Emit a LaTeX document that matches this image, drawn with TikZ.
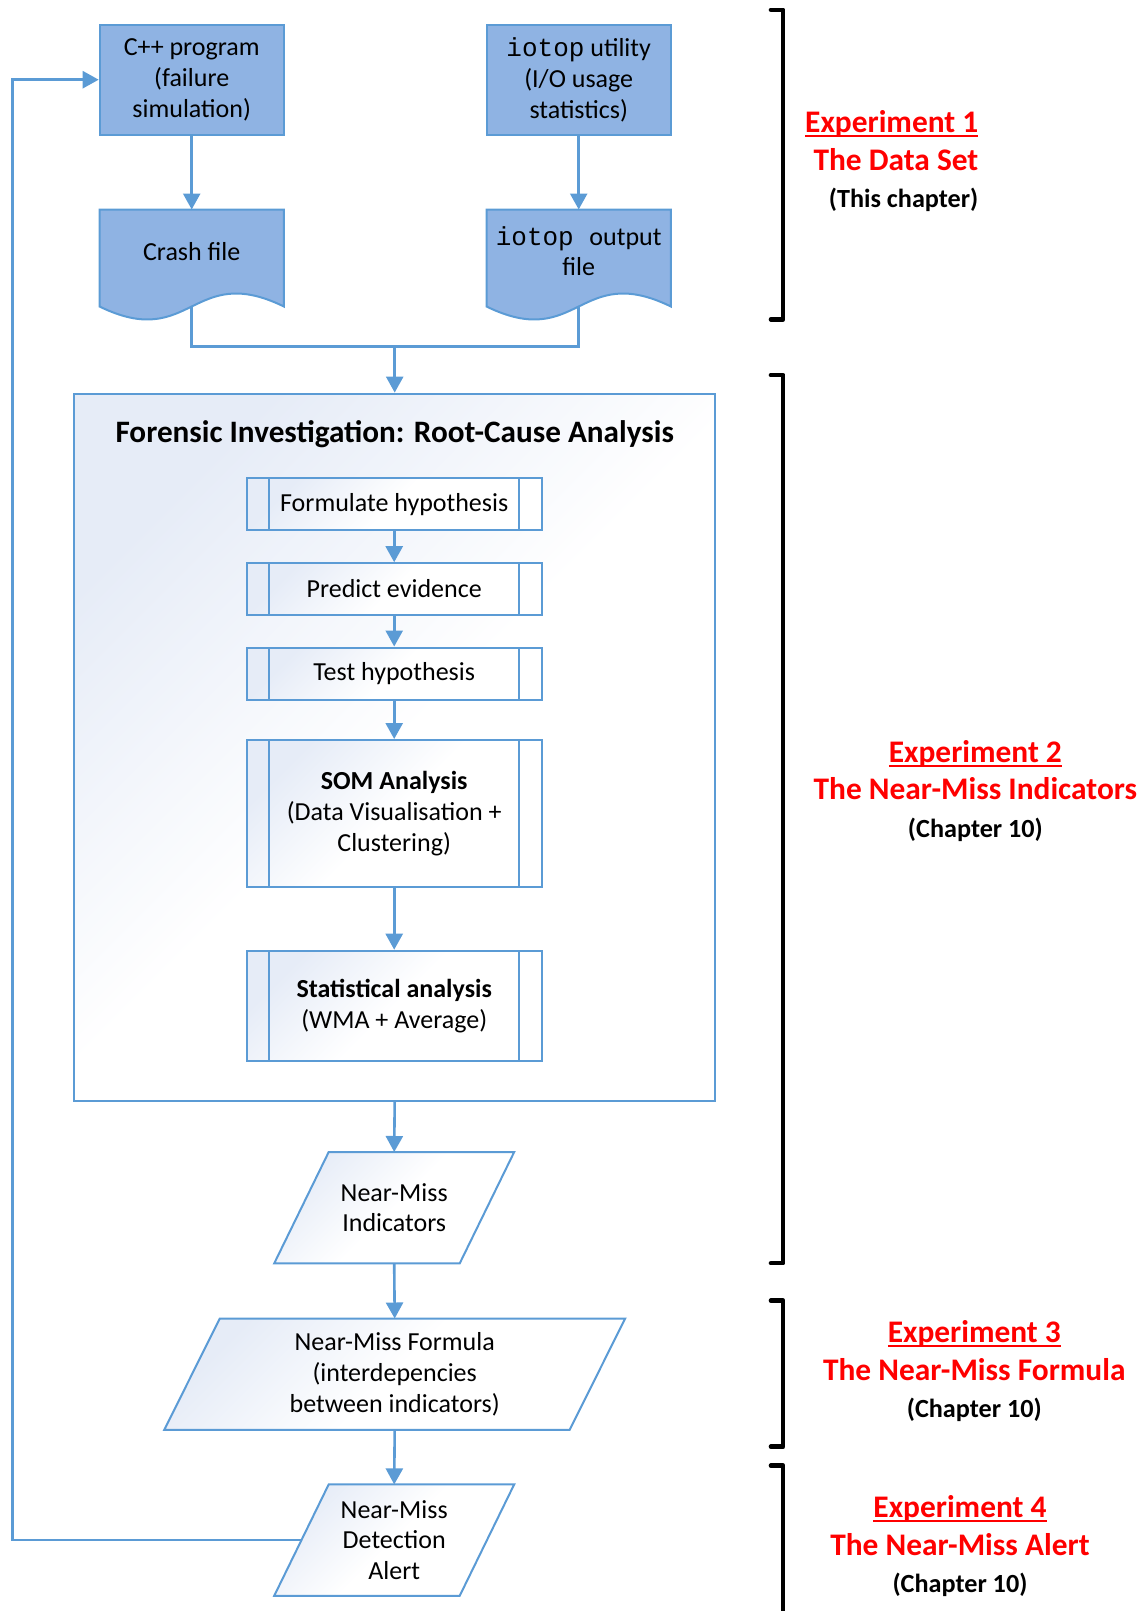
\documentclass[tikz,border=0pt]{standalone}
\usepackage{fontspec}
\setmainfont{Carlito}
\newfontfamily\codefont{Liberation Mono}
\usetikzlibrary{arrows.meta,calc,backgrounds}

\definecolor{boxfill}{HTML}{8FB3E3}
\definecolor{boxline}{HTML}{5B9BD5}
\definecolor{shadec}{HTML}{E6ECF7}
\definecolor{labred}{HTML}{FF0000}

\newcommand\bxfont{\fontsize{26}{30.8}\selectfont}
\newcommand\ttlfont{\fontsize{31.2}{36}\selectfont\bfseries}
\newcommand\expfont{\fontsize{31.4}{38}\selectfont\bfseries}
\newcommand\notefont{\fontsize{26.2}{30}\selectfont\bfseries}
% thick underline for the experiment headings
\newcommand\expul[1]{\setbox0\hbox{#1}\rlap{\rule[-4.6pt]{\wd0}{2.4pt}}\box0}

\tikzset{
  conn/.style={draw=boxline, line width=2.6pt},
  arrow/.style={conn, -{Triangle[width=17pt,length=16pt]}},
  softfill/.style={top color=shadec, bottom color=white, middle color=white, shading angle=45},
  solidbox/.style={rectangle, draw=boxline, fill=boxfill, line width=2pt,
    align=center, font=\bxfont, minimum width=184pt, minimum height=110pt},
  textonly/.style={rectangle, align=center, font=\bxfont, inner sep=0pt},
  docshape/.style={draw=boxline, fill=boxfill, line width=2pt},
  ioshape/.style={draw=boxline, line width=2pt, softfill},
  bigbox/.style={rectangle, draw=boxline, line width=2pt, softfill},
  process/.style={rectangle, draw=boxline, line width=2pt, softfill,
    minimum width=295pt, align=center, font=\bxfont,
    path picture={\draw[boxline, line width=2pt]
      ([xshift=22.6pt]path picture bounding box.north west) --
      ([xshift=22.6pt]path picture bounding box.south west)
      ([xshift=-22.6pt]path picture bounding box.north east) --
      ([xshift=-22.6pt]path picture bounding box.south east);}},
  bracket/.style={draw=black, line width=4.5pt, line cap=round, line join=round},
  exptitle/.style={font=\expfont, text=labred, inner sep=0pt},
  expnote/.style={font=\notefont, inner sep=0pt},
}

\begin{document}
\begin{tikzpicture}[x=1pt, y=-1pt]
\useasboundingbox (0,0) rectangle (1144,1611);

% --- inputs -------------------------------------------------------------
\node[solidbox] (cpp) at (191.7,79.7) {C++ program\\(failure\\simulation)};
\node[solidbox] (iotop) at (578.7,79.7) {{\codefont iotop} utility\\(I/O usage\\statistics)};

% --- document outputs ---------------------------------------------------
\node[textonly, minimum width=184pt, minimum height=83pt] (crash) at (191.7,251.2) {Crash file};
\node[textonly, minimum width=184pt, minimum height=83pt] (iodoc) at (578.7,251.2) {{\codefont iotop\ }output\\file};
\begin{scope}[on background layer]
  \foreach \d in {crash,iodoc}{
    \path[docshape] (\d.north west) -- (\d.north east) -- ([yshift=-13.6pt]\d.south east)
      .. controls ([yshift=31.4pt]\d.south) and ([yshift=-58.6pt]\d.south) ..
      ([yshift=-13.6pt]\d.south west) -- cycle;
  }
\end{scope}

\draw[arrow] (cpp) -- (crash.north);
\draw[arrow] (iotop) -- (iodoc.north);

% --- forensic investigation block ----------------------------------------
\node[bigbox, minimum width=641.3pt, minimum height=707.2pt] (forensic) at (394.7,747.2) {};
\node[font=\ttlfont] (title) at (394.7,434) {Forensic Investigation: Root-Cause Analysis};

\coordinate (merge) at (394.7,346.4);
\draw[conn] ([yshift=-13.6pt]crash.south) |- (merge) -| ([yshift=-13.6pt]iodoc.south);
\draw[arrow] (merge) -- (forensic.north);

\node[process, minimum height=52.4pt] (f1) at (394.2,504.1) {Formulate hypothesis};
\node[process, minimum height=51.4pt] (f2) at (394.2,588.9) {Predict evidence};
\node[process, minimum height=52.4pt] (f3) at (394.2,673.7) {Test hypothesis};
\node[process, minimum height=147pt] (som) at (394.2,813.5) {\textbf{SOM Analysis}\\(Data Visualisation +\\Clustering)};
\node[process, minimum height=110pt] (stat) at (394.2,1005.7) {\textbf{Statistical analysis}\\(WMA + Average)};

\draw[arrow] (f1) -- (f2);
\draw[arrow] (f2) -- (f3);
\draw[arrow] (f3) -- (som);
\draw[arrow] (som) -- (stat);

% --- results --------------------------------------------------------------
\node[textonly, minimum width=239.6pt, minimum height=111pt] (ind) at (394.2,1207.7) {Near-Miss\\Indicators};
\node[textonly, minimum width=460.5pt, minimum height=111pt] (form) at (394.7,1374.2) {Near-Miss Formula\\(interdepencies\\between indicators)};
\node[textonly, minimum width=239.6pt, minimum height=111pt] (alert) at (394.2,1540.1) {Near-Miss\\Detection\\Alert};
\begin{scope}[on background layer]
  \path[ioshape] ([xshift=54.5pt]ind.north west) -- (ind.north east) -- ([xshift=-54.5pt]ind.south east) -- (ind.south west) -- cycle;
  \path[ioshape] ([xshift=55.5pt]form.north west) -- (form.north east) -- ([xshift=-55.5pt]form.south east) -- (form.south west) -- cycle;
  \path[ioshape] ([xshift=54.5pt]alert.north west) -- (alert.north east) -- ([xshift=-54.5pt]alert.south east) -- (alert.south west) -- cycle;
\end{scope}

\draw[arrow] (forensic.south) -- (ind.north);
\draw[arrow] (ind.south) -- (form.north);
\draw[arrow] (form.south) -- (alert.north);

% feedback loop back to the failure simulation
\coordinate (alertL) at ([xshift=27.25pt]alert.west);
\coordinate (loopTop) at (12.3,79.7);
\draw[arrow] (alertL) -| (loopTop) -- (cpp.west);

% --- experiment brackets ---------------------------------------------------
\draw[bracket] (770.9,9.8) -- (783.2,9.8) -- (783.2,319.3) -- (770.9,319.3);
\draw[bracket] (770.9,375.1) -- (783.2,375.1) -- (783.2,1263.2) -- (770.9,1263.2);
\draw[bracket] (770.9,1300.7) -- (783.2,1300.7) -- (783.2,1446.7) -- (770.9,1446.7);
\draw[bracket] (770.9,1465.7) -- (783.2,1465.7) -- (783.2,1625);

% --- experiment labels -------------------------------------------------------
\node[exptitle, anchor=base east] (e1a) at (978.5,132.5) {\expul{Experiment 1}};
\node[exptitle, anchor=base east] (e1b) at (978.5,170.8) {The Data Set};
\node[expnote, anchor=base east] (e1c) at (978.5,207.5) {(This chapter)};

\node[exptitle, anchor=base] (e2a) at (975.4,762.5) {\expul{Experiment 2}};
\node[exptitle, anchor=base] (e2b) at (975.4,799.8) {The Near-Miss Indicators};
\node[expnote, anchor=base] (e2c) at (975.4,837.5) {(Chapter 10)};

\node[exptitle, anchor=base] (e3a) at (974.3,1342.7) {\expul{Experiment 3}};
\node[exptitle, anchor=base] (e3b) at (974.3,1380) {The Near-Miss Formula};
\node[expnote, anchor=base] (e3c) at (974.3,1417.7) {(Chapter 10)};

\node[exptitle, anchor=base] (e4a) at (960,1517.7) {\expul{Experiment 4}};
\node[exptitle, anchor=base] (e4b) at (960,1555) {The Near-Miss Alert};
\node[expnote, anchor=base] (e4c) at (960,1592.7) {(Chapter 10)};
\end{tikzpicture}
\end{document}
